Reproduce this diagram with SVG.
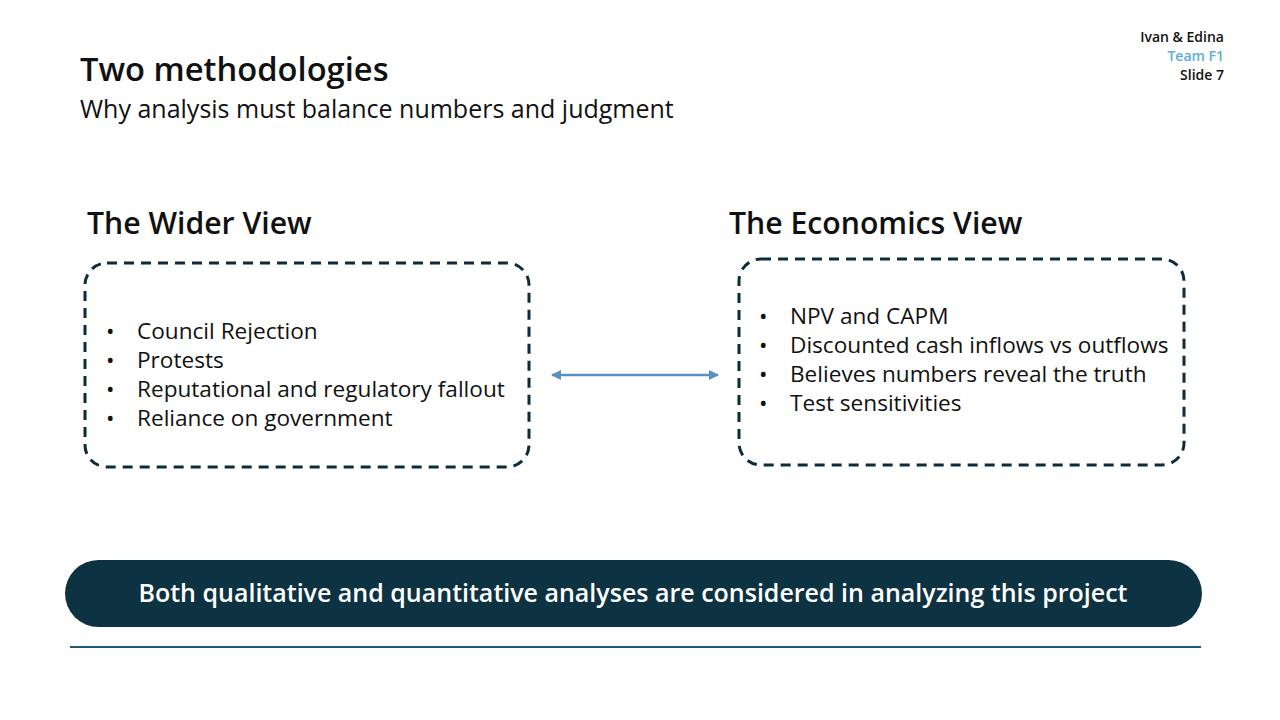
<svg xmlns="http://www.w3.org/2000/svg" width="1280" height="720" viewBox="0 0 1280 720">
<style>
text{font-family:"Open Sans","Noto Sans","Liberation Sans",sans-serif;fill:#111}
.b{font-size:22.6px}
.h{font-size:30.2px;font-weight:600}
.box{fill:none;stroke:#0d2b3a;stroke-width:3;stroke-dasharray:10 7}
</style>
<defs><marker id="ah" viewBox="0 0 10 10" refX="9" refY="5" markerWidth="4" markerHeight="4" orient="auto-start-reverse"><path d="M0 0L10 5L0 10z" fill="#5b8fc4"/></marker></defs>
<rect width="1280" height="720" fill="#fff"/>
<g id="header">
<text x="80" y="81" font-size="32.7" font-weight="600">Two methodologies</text>
<text x="80" y="118" font-size="25">Why analysis must balance numbers and judgment</text>
<g text-anchor="end" font-size="14" font-weight="600">
<text x="1224" y="42">Ivan &amp; Edina</text>
<text x="1224" y="61" style="fill:#5ab0d6">Team F1</text>
<text x="1224" y="80">Slide 7</text>
</g>
</g>
<g id="wider">
<text class="h" x="87" y="234">The Wider View</text>
<rect class="box" x="85" y="263" width="444" height="204" rx="22"/>
<g class="b">
<text x="106" y="339">•</text><text x="137" y="339">Council Rejection</text>
<text x="106" y="368">•</text><text x="137" y="368">Protests</text>
<text x="106" y="397">•</text><text x="137" y="397">Reputational and regulatory fallout</text>
<text x="106" y="426">•</text><text x="137" y="426">Reliance on government</text>
</g>
</g>
<g id="economics">
<text class="h" x="729" y="234">The Economics View</text>
<rect class="box" x="739" y="259" width="445" height="206" rx="22"/>
<g class="b">
<text x="759" y="324">•</text><text x="790" y="324">NPV and CAPM</text>
<text x="759" y="353">•</text><text x="790" y="353">Discounted cash inflows vs outflows</text>
<text x="759" y="382">•</text><text x="790" y="382">Believes numbers reveal the truth</text>
<text x="759" y="411">•</text><text x="790" y="411">Test sensitivities</text>
</g>
</g>
<g id="connectors">
<line x1="552" y1="375" x2="718" y2="375" stroke="#5b8fc4" stroke-width="2.5" marker-start="url(#ah)" marker-end="url(#ah)"/>
</g>
<g id="banner">
<rect x="65" y="560" width="1137" height="67" rx="33.5" fill="#0d3242"/>
<text x="633" y="602" text-anchor="middle" font-size="25" font-weight="600" style="fill:#fff">Both qualitative and quantitative analyses are considered in analyzing this project</text>
</g>
<line x1="70" y1="647" x2="1201" y2="647" stroke="#1e5a78" stroke-width="2"/>
</svg>
